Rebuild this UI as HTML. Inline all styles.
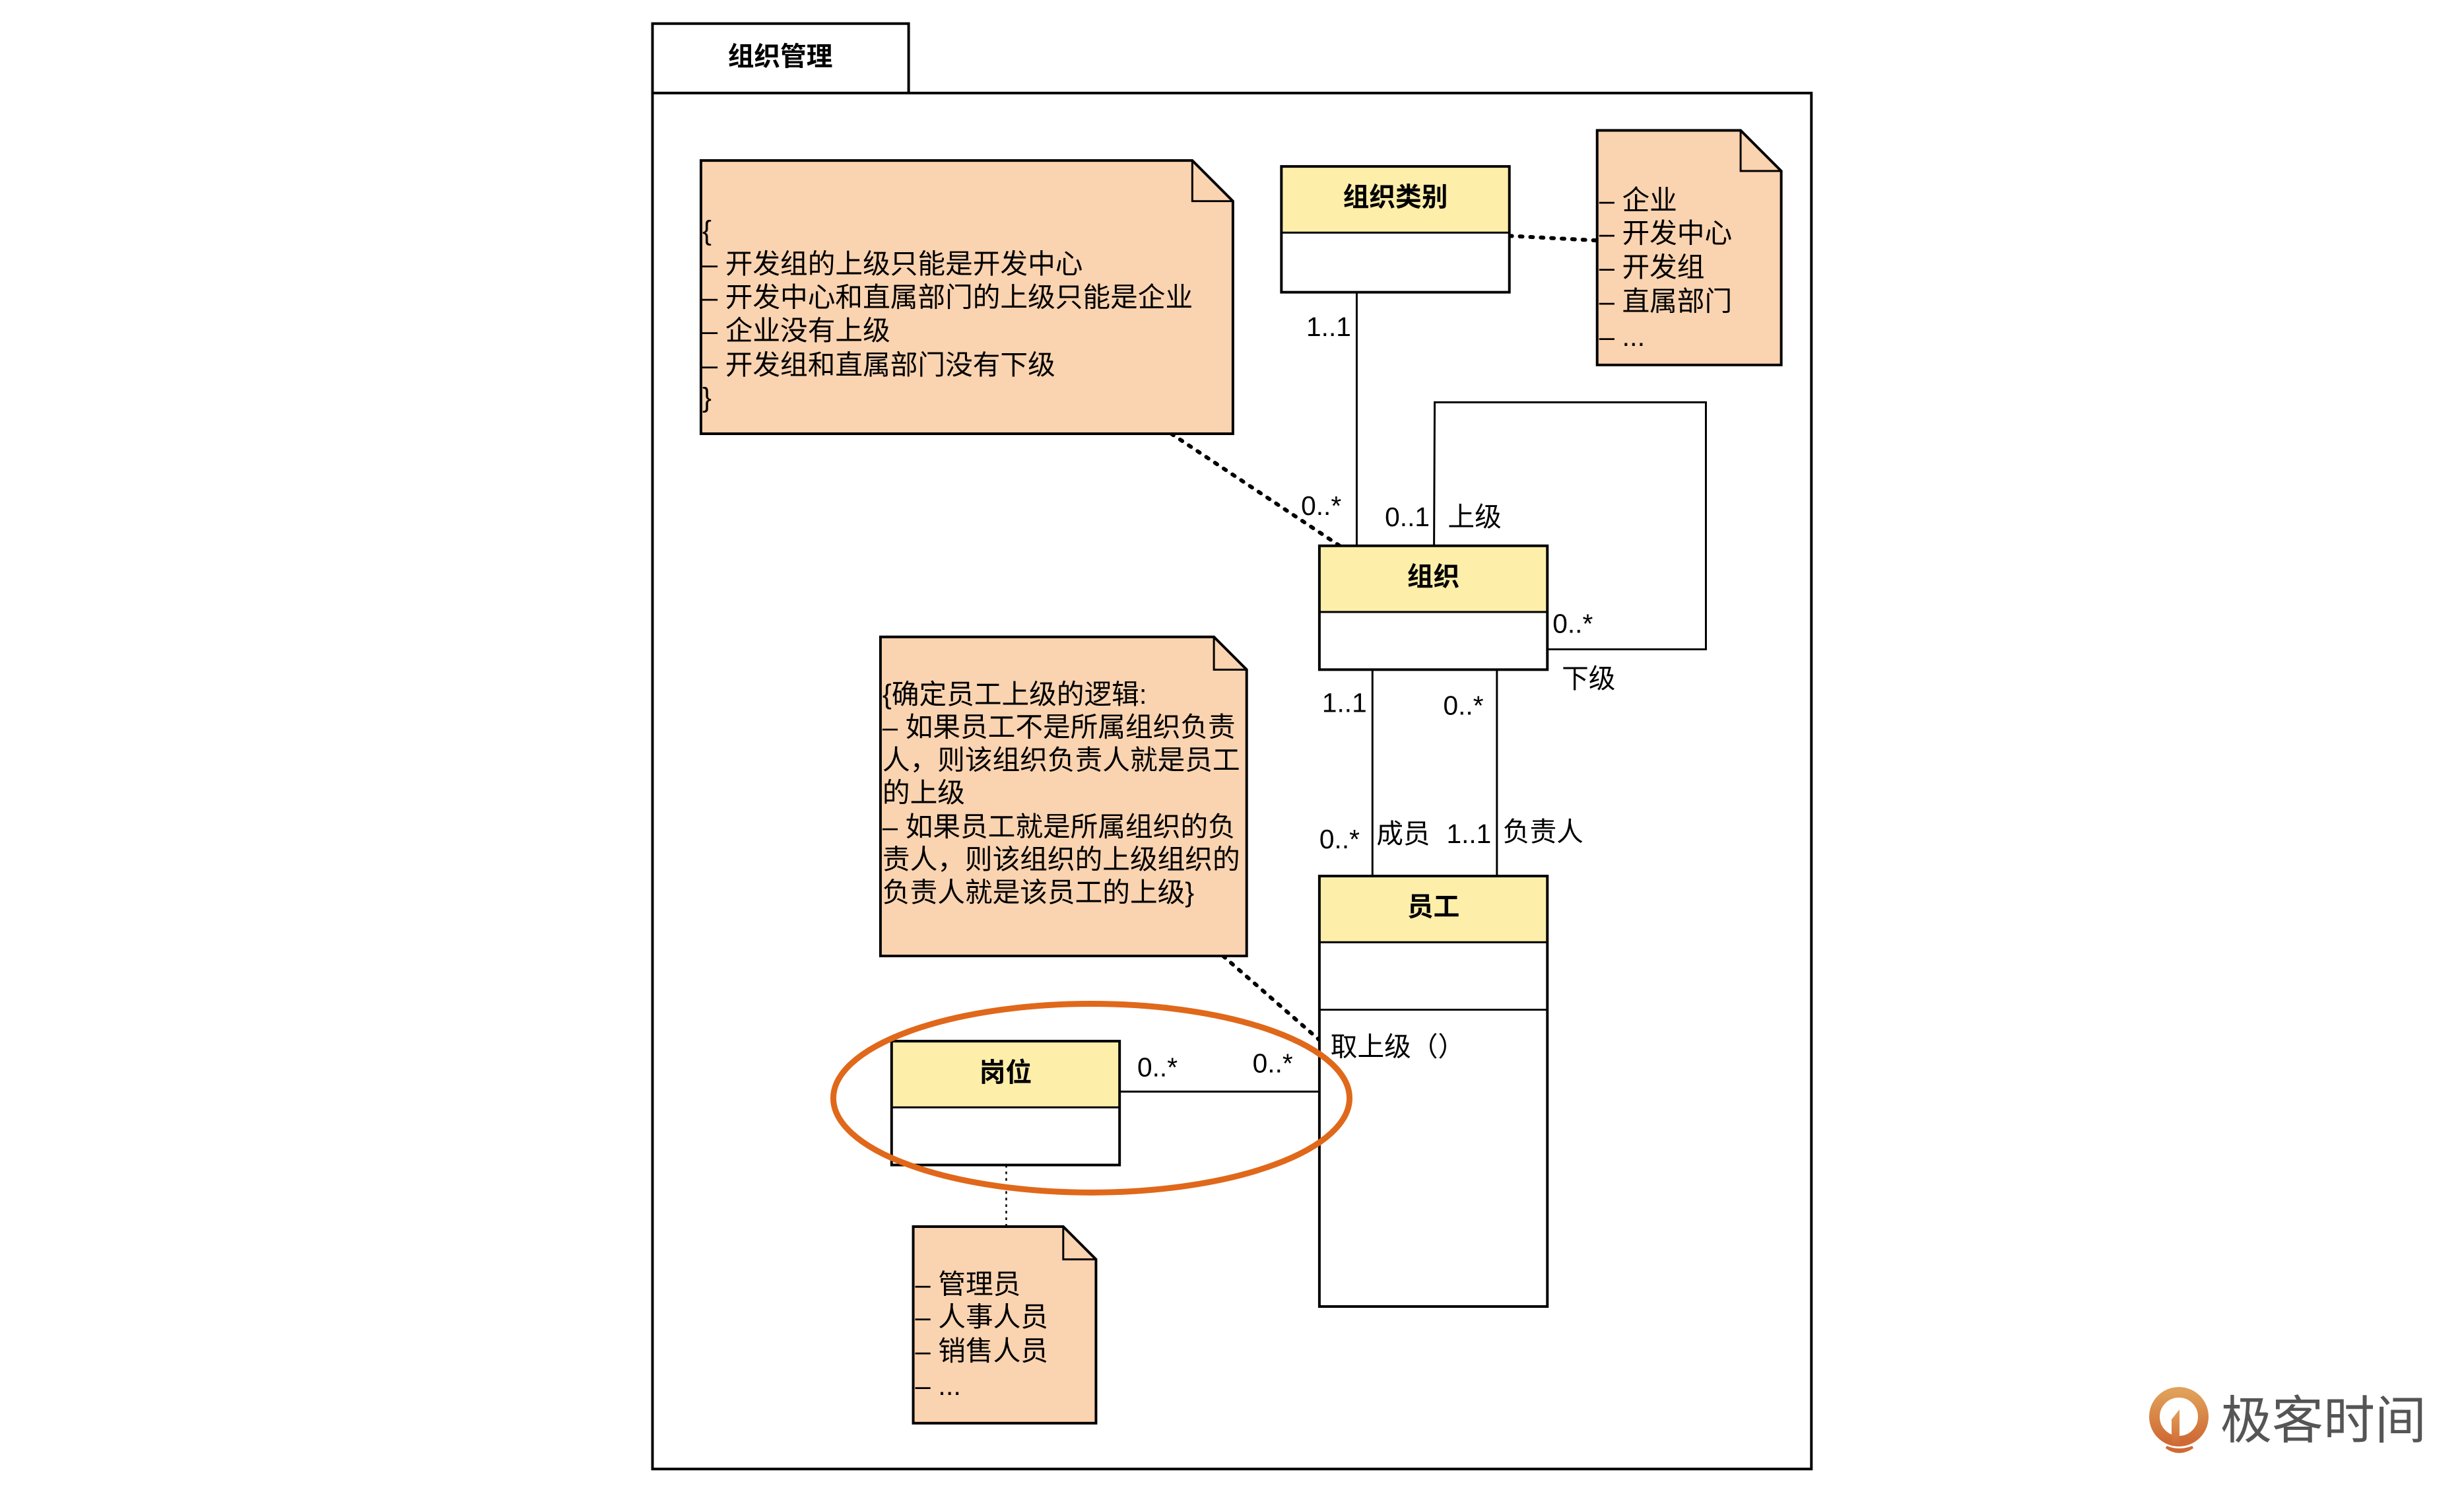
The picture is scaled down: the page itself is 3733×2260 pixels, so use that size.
<!DOCTYPE html>
<html><head><meta charset="utf-8"><style>
html,body{margin:0;padding:0;background:#fff;}
svg{display:block;}
text{font-family:"Liberation Sans","Noto Sans CJK SC",sans-serif;fill:#000;}
.b{font-weight:bold;}
</style></head><body>
<svg width="3733" height="2260" viewBox="0 0 3733 2260" xmlns="http://www.w3.org/2000/svg">
<rect width="3733" height="2260" fill="#fff"/>
<g transform="scale(0.9925)">
<!-- package frame -->
<rect x="996" y="36" width="391" height="106" fill="#fff" stroke="#000" stroke-width="4"/>
<rect x="996" y="142" width="1769" height="2100" fill="#fff" stroke="#000" stroke-width="4"/>
<text x="1191" y="89" font-size="40" class="b" text-anchor="middle" dominant-baseline="middle">组织管理</text>

<!-- connectors -->
<line x1="2071" y1="446" x2="2071" y2="833" stroke="#000" stroke-width="3"/>
<polyline points="2189,833 2190,614 2604,614 2604,991 2362,991" fill="none" stroke="#000" stroke-width="3"/>
<line x1="2095" y1="1022" x2="2095" y2="1337" stroke="#000" stroke-width="3"/>
<line x1="2285" y1="1022" x2="2285" y2="1337" stroke="#000" stroke-width="3"/>
<line x1="1709" y1="1666" x2="2014" y2="1666" stroke="#000" stroke-width="3"/>
<line x1="1788" y1="662" x2="2045" y2="833" stroke="#000" stroke-width="6" stroke-dasharray="4 12" stroke-linecap="round"/>
<line x1="1867" y1="1459" x2="2016" y2="1589" stroke="#000" stroke-width="6" stroke-dasharray="4 12" stroke-linecap="round"/>
<line x1="2304" y1="360" x2="2438" y2="367" stroke="#000" stroke-width="6" stroke-dasharray="4 12" stroke-linecap="round"/>
<line x1="1536" y1="1778" x2="1536" y2="1872" stroke="#000" stroke-width="2.5" stroke-dasharray="4 6"/>

<!-- notes -->
<path d="M1070,245 H1820 L1882,307 V662 H1070 Z" fill="#fad3b0" stroke="#000" stroke-width="4"/>
<path d="M1820,245 V307 H1882" fill="none" stroke="#000" stroke-width="3"/>
<g font-size="42">
<text x="1072" y="355" dominant-baseline="middle">{</text>
<text x="1072" y="406" dominant-baseline="middle">– 开发组的上级只能是开发中心</text>
<text x="1072" y="457" dominant-baseline="middle">– 开发中心和直属部门的上级只能是企业</text>
<text x="1072" y="508" dominant-baseline="middle">– 企业没有上级</text>
<text x="1072" y="560" dominant-baseline="middle">– 开发组和直属部门没有下级</text>
<text x="1072" y="610" dominant-baseline="middle">}</text>
</g>

<path d="M2438,199 H2657 L2719,261 V557 H2438 Z" fill="#fad3b0" stroke="#000" stroke-width="4"/>
<path d="M2657,199 V261 H2719" fill="none" stroke="#000" stroke-width="3"/>
<g font-size="42">
<text x="2441" y="309" dominant-baseline="middle">– 企业</text>
<text x="2441" y="359" dominant-baseline="middle">– 开发中心</text>
<text x="2441" y="411" dominant-baseline="middle">– 开发组</text>
<text x="2441" y="463" dominant-baseline="middle">– 直属部门</text>
<text x="2441" y="517" dominant-baseline="middle">– ...</text>
</g>

<path d="M1344,972 H1853 L1903,1022 V1459 H1344 Z" fill="#fad3b0" stroke="#000" stroke-width="4"/>
<path d="M1853,972 V1022 H1903" fill="none" stroke="#000" stroke-width="3"/>
<g font-size="42">
<text x="1347" y="1063" dominant-baseline="middle">{确定员工上级的逻辑:</text>
<text x="1347" y="1113" dominant-baseline="middle">– 如果员工不是所属组织负责</text>
<text x="1347" y="1163" dominant-baseline="middle">人，则该组织负责人就是员工</text>
<text x="1347" y="1213" dominant-baseline="middle">的上级</text>
<text x="1347" y="1265" dominant-baseline="middle">– 如果员工就是所属组织的负</text>
<text x="1347" y="1315" dominant-baseline="middle">责人，则该组织的上级组织的</text>
<text x="1347" y="1365" dominant-baseline="middle">负责人就是该员工的上级}</text>
</g>

<path d="M1394,1872 H1623 L1673,1922 V2172 H1394 Z" fill="#fad3b0" stroke="#000" stroke-width="4"/>
<path d="M1623,1872 V1922 H1673" fill="none" stroke="#000" stroke-width="3"/>
<g font-size="42">
<text x="1397" y="1963" dominant-baseline="middle">– 管理员</text>
<text x="1397" y="2013" dominant-baseline="middle">– 人事人员</text>
<text x="1397" y="2065" dominant-baseline="middle">– 销售人员</text>
<text x="1397" y="2118" dominant-baseline="middle">– ...</text>
</g>

<!-- classes -->
<rect x="1956" y="254" width="348" height="101" fill="#fdeeaa"/>
<rect x="1956" y="355" width="348" height="91" fill="#fff"/>
<rect x="1956" y="254" width="348" height="192" fill="none" stroke="#000" stroke-width="4"/>
<line x1="1956" y1="355" x2="2304" y2="355" stroke="#000" stroke-width="3"/>
<text x="2130" y="304" font-size="40" class="b" text-anchor="middle" dominant-baseline="middle">组织类别</text>

<rect x="2014" y="833" width="348" height="101" fill="#fdeeaa"/>
<rect x="2014" y="934" width="348" height="88" fill="#fff"/>
<rect x="2014" y="833" width="348" height="189" fill="none" stroke="#000" stroke-width="4"/>
<line x1="2014" y1="934" x2="2362" y2="934" stroke="#000" stroke-width="3"/>
<text x="2188" y="883" font-size="40" class="b" text-anchor="middle" dominant-baseline="middle">组织</text>

<rect x="2014" y="1337" width="348" height="101" fill="#fdeeaa"/>
<rect x="2014" y="1438" width="348" height="556" fill="#fff"/>
<rect x="2014" y="1337" width="348" height="657" fill="none" stroke="#000" stroke-width="4"/>
<line x1="2014" y1="1438" x2="2362" y2="1438" stroke="#000" stroke-width="3"/>
<line x1="2014" y1="1541" x2="2362" y2="1541" stroke="#000" stroke-width="3"/>
<text x="2188" y="1387" font-size="40" class="b" text-anchor="middle" dominant-baseline="middle">员工</text>
<text x="2031" y="1601" font-size="41" dominant-baseline="middle">取上级（）</text>

<rect x="1361" y="1589" width="348" height="101" fill="#fdeeaa"/>
<rect x="1361" y="1690" width="348" height="88" fill="#fff"/>
<rect x="1361" y="1589" width="348" height="189" fill="none" stroke="#000" stroke-width="4"/>
<line x1="1361" y1="1690" x2="1709" y2="1690" stroke="#000" stroke-width="3"/>
<text x="1535" y="1640" font-size="40" class="b" text-anchor="middle" dominant-baseline="middle">岗位</text>

<!-- labels -->
<g font-size="41" dominant-baseline="middle">
<text x="1994" y="502">1..1</text>
<text x="1986" y="775">0..*</text>
<text x="2114" y="792">0..1</text>
<text x="2210" y="792">上级</text>
<text x="2370" y="955">0..*</text>
<text x="2384" y="1039">下级</text>
<text x="2018" y="1076">1..1</text>
<text x="2203" y="1080">0..*</text>
<text x="2014" y="1284">0..*</text>
<text x="2101" y="1276">成员</text>
<text x="2208" y="1276">1..1</text>
<text x="2294" y="1273">负责人</text>
<text x="1736" y="1632">0..*</text>
<text x="1912" y="1626">0..*</text>
</g>

<!-- highlight ellipse -->
<ellipse cx="1666" cy="1676" rx="394" ry="144" fill="none" stroke="#e0681a" stroke-width="9"/>
</g>

<!-- logo -->
<defs><linearGradient id="lg" x1="0" y1="0" x2="0" y2="1"><stop offset="0" stop-color="#e0a05a"/><stop offset="1" stop-color="#cf6a35"/></linearGradient></defs>
<circle cx="3301" cy="2146" r="37" fill="none" stroke="url(#lg)" stroke-width="16"/>
<path d="M3282,2192 Q3301,2206 3322,2192 Q3301,2200 3282,2192 Z" fill="#cf6a35" stroke="#cf6a35" stroke-width="4"/>
<path d="M3290,2150 L3302,2135 L3302,2190 L3290,2190 Z" fill="url(#lg)"/>
<text x="3364" y="2158" font-size="78" fill="#555" style="fill:#555" dominant-baseline="middle">极客时间</text>
</svg>
</body></html>
